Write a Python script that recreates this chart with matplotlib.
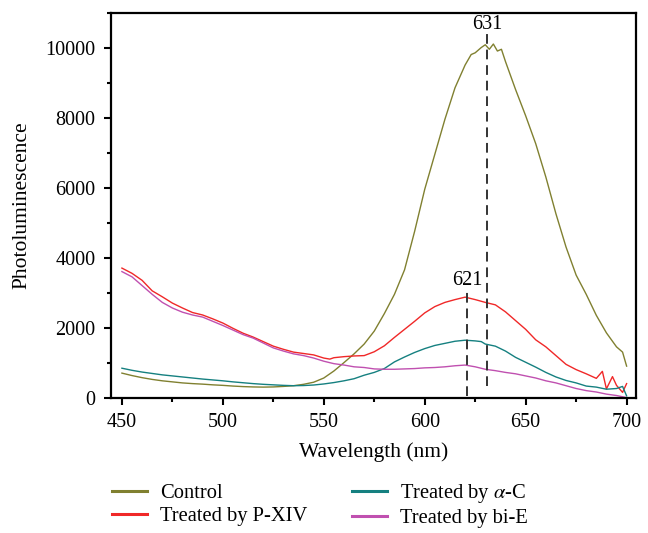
import matplotlib
matplotlib.use("Agg")
import matplotlib.pyplot as plt
from matplotlib.ticker import MultipleLocator

plt.rcParams['font.family'] = ['Liberation Serif', 'DejaVu Serif']
plt.rcParams['mathtext.fontset'] = 'stix'

# ---- data ----
wl_control = [450, 455, 460, 465, 470, 475, 480, 485, 490, 495, 500, 505, 510, 515, 520, 525,
              530, 535, 540, 545, 550, 555, 560, 565, 570, 575, 580, 585, 590, 595, 600, 605,
              610, 615, 620, 623, 625, 628, 630, 632, 634, 636, 638, 640, 645, 650, 655, 660, 665, 670,
              675, 680, 685, 690, 695, 698, 700]
control = [700, 630, 570, 520, 480, 450, 420, 400, 385, 365, 350, 330, 315, 305, 300, 305,
           320, 340, 380, 440, 560, 760, 1000, 1250, 1530, 1900, 2400, 2950, 3650, 4750, 5950, 6950,
           7950, 8850, 9500, 9800, 9850, 10000, 10080, 9950, 10100, 9900, 9950, 9600, 8800, 8050, 7250, 6300, 5250, 4300,
           3500, 2950, 2350, 1850, 1450, 1300, 900]

wl_pxiv = [450, 455, 460, 465, 470, 475, 480, 485, 490, 495, 500, 505, 510, 515, 520, 525,
           530, 535, 540, 545, 550, 553, 555, 560, 565, 570, 575, 580, 585, 590, 595, 600,
           605, 610, 615, 620, 625, 630, 635, 640, 645, 650, 655, 660, 665, 670, 675, 680,
           685, 688, 690, 693, 695, 698, 700]
pxiv = [3700, 3550, 3350, 3050, 2880, 2700, 2560, 2430, 2360, 2250, 2130, 1980, 1840, 1730, 1600, 1470,
        1380, 1300, 1260, 1220, 1130, 1100, 1140, 1170, 1190, 1200, 1310, 1480, 1720, 1950, 2180, 2420,
        2600, 2720, 2800, 2870, 2800, 2720, 2650, 2450, 2200, 1950, 1650, 1450, 1200, 950, 800, 680,
        550, 750, 250, 600, 350, 150, 400]

wl_ac = [450, 455, 460, 465, 470, 475, 480, 485, 490, 495, 500, 505, 510, 515, 520, 525,
         530, 535, 540, 545, 550, 555, 560, 565, 570, 575, 580, 585, 590, 595, 600, 605,
         610, 615, 620, 625, 628, 630, 635, 640, 645, 650, 655, 660, 665, 670, 675, 680,
         685, 690, 695, 698, 700]
ac = [840, 780, 730, 690, 650, 620, 590, 560, 530, 505, 480, 450, 425, 400, 380, 365,
      350, 340, 345, 360, 390, 430, 480, 540, 640, 720, 830, 1020, 1160, 1290, 1400, 1490,
      1550, 1610, 1640, 1620, 1600, 1530, 1470, 1330, 1150, 1010, 870, 720, 590, 490, 420, 330,
      300, 240, 260, 320, 50]

wl_bie = [450, 455, 460, 465, 470, 475, 480, 485, 490, 495, 500, 505, 510, 515, 520, 525,
          530, 535, 540, 545, 550, 555, 560, 565, 570, 575, 580, 585, 590, 595, 600, 605,
          610, 615, 620, 625, 630, 635, 640, 645, 650, 655, 660, 665, 670, 675, 680, 685,
          690, 695, 700]
bie = [3600, 3450, 3200, 2950, 2720, 2560, 2440, 2360, 2300, 2180, 2060, 1930, 1800, 1700, 1560, 1420,
       1330, 1250, 1200, 1130, 1040, 970, 930, 880, 860, 820, 810, 810, 820, 830, 850, 860,
       880, 910, 930, 880, 810, 770, 720, 680, 620, 560, 480, 420, 340, 260, 200, 160,
       100, 60, 0]

peaks = [631, 621]
peak_line_top = [10420, 3100]
peak_line_bottom = [334, 50]
peak_text_y = [10540, 3230]

labels = ['Control', 'Treated by P-XIV', r'Treated by $\alpha$-C', 'Treated by bi-E']
colors = ['#808030', '#f02828', '#158080', '#c050b0']

fig = plt.figure(figsize=(6.48, 5.33), dpi=100)
ax = fig.add_axes([0.171, 0.254, 0.810, 0.7225])

series = [(wl_control, control), (wl_pxiv, pxiv), (wl_ac, ac), (wl_bie, bie)]
handles = []
for (x, y), lab, c in zip(series, labels, colors):
    h, = ax.plot(x, y, color=c, lw=1.0, label=lab)
    handles.append(h)

for p, top, bot, ty in zip(peaks, peak_line_top, peak_line_bottom, peak_text_y):
    ax.plot([p, p], [bot, top], color='#333333', lw=1.4, ls=(0, (5, 3)))
    ax.text(p, ty, str(p), ha='center', va='baseline', fontsize=14.5)

ax.set_xlim(444.5, 704.5)
ax.set_ylim(0, 11000)
ax.xaxis.set_major_locator(MultipleLocator(50))
ax.xaxis.set_minor_locator(MultipleLocator(25))
ax.yaxis.set_major_locator(MultipleLocator(2000))
ax.yaxis.set_minor_locator(MultipleLocator(1000))
ax.tick_params(which='both', direction='out', width=1.5, labelsize=14.5, top=False, right=False, pad=6)
ax.tick_params(which='major', length=5)
ax.tick_params(which='minor', length=3)
for s in ax.spines.values():
    s.set_linewidth(1.6)

ax.set_xlabel('Wavelength (nm)', fontsize=15.5, va='center')
ax.set_ylabel('Photoluminescence', fontsize=15.5, va='center')
ax.xaxis.set_label_coords(0.5, -0.142)
ax.yaxis.set_label_coords(-0.17, 0.5)

leg = fig.legend(handles, labels, loc='upper left', bbox_to_anchor=(112 / 648, 1 - 482 / 533), ncol=2,
                 frameon=False, fontsize=14.8, handlelength=1.7, columnspacing=2.2,
                 labelspacing=0.17, handletextpad=0.63, borderpad=0, borderaxespad=0)
for lh in leg.get_lines():
    lh.set_linewidth(2.2)

fig.savefig('out.png', dpi=100)
